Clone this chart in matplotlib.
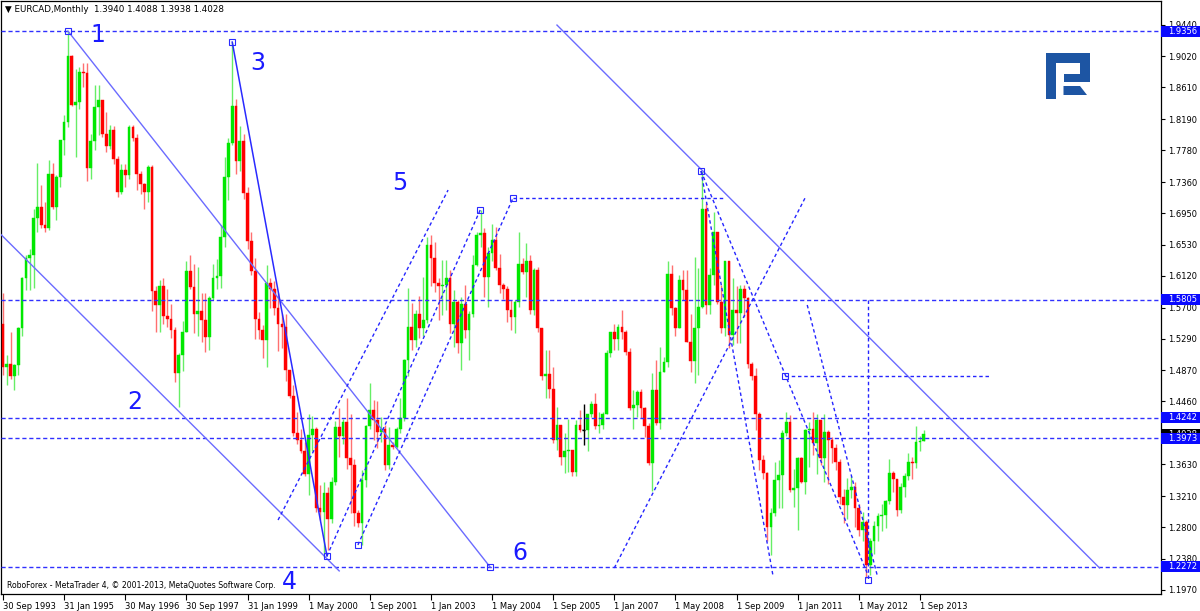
import numpy as np
import matplotlib
matplotlib.use("Agg")
import matplotlib.pyplot as plt
from matplotlib.patches import Polygon, Rectangle
import matplotlib.transforms as mtransforms

# EURCAD monthly candles, Sep 1993 .. Oct 2013 (one value per bar)
first_open = 1.549
last_open = 1.3940
closes = [
    1.492, 1.495, 1.479, 1.494, 1.543, 1.609, 1.635, 1.640, 1.688, 1.703,
    1.679, 1.675, 1.747, 1.703, 1.743, 1.791, 1.816, 1.902, 1.838, 1.842,
    1.882, 1.880, 1.754, 1.790, 1.835, 1.845, 1.800, 1.783, 1.805, 1.767,
    1.723, 1.752, 1.745, 1.809, 1.794, 1.747, 1.734, 1.723, 1.756, 1.592,
    1.574, 1.599, 1.559, 1.555, 1.540, 1.484, 1.508, 1.538, 1.618, 1.597,
    1.562, 1.565, 1.554, 1.531, 1.583, 1.609, 1.612, 1.663, 1.743, 1.787,
    1.837, 1.764, 1.790, 1.722, 1.658, 1.618, 1.555, 1.541, 1.527, 1.602,
    1.595, 1.570, 1.548, 1.545, 1.487, 1.453, 1.404, 1.395, 1.381, 1.350,
    1.402, 1.409, 1.305, 1.300, 1.325, 1.290, 1.340, 1.412, 1.400, 1.419,
    1.371, 1.362, 1.298, 1.285, 1.342, 1.413, 1.435, 1.421, 1.406, 1.410,
    1.362, 1.389, 1.386, 1.410, 1.424, 1.501, 1.545, 1.527, 1.562, 1.543,
    1.554, 1.653, 1.635, 1.602, 1.598, 1.600, 1.609, 1.549, 1.578, 1.523,
    1.575, 1.540, 1.562, 1.626, 1.666, 1.668, 1.611, 1.642, 1.659, 1.622,
    1.600, 1.595, 1.567, 1.558, 1.578, 1.628, 1.617, 1.631, 1.567, 1.620,
    1.543, 1.479, 1.482, 1.463, 1.395, 1.415, 1.373, 1.381, 1.382, 1.353,
    1.415, 1.408, 1.408, 1.430, 1.443, 1.413, 1.415, 1.430, 1.510, 1.538,
    1.529, 1.545, 1.538, 1.512, 1.437, 1.441, 1.459, 1.437, 1.413, 1.364,
    1.461, 1.417, 1.485, 1.498, 1.615, 1.569, 1.543, 1.607, 1.593, 1.525,
    1.499, 1.543, 1.571, 1.701, 1.573, 1.613, 1.670, 1.578, 1.543, 1.631,
    1.534, 1.567, 1.563, 1.595, 1.583, 1.496, 1.479, 1.430, 1.369, 1.351,
    1.280, 1.298, 1.342, 1.349, 1.404, 1.419, 1.329, 1.331, 1.371, 1.340,
    1.408, 1.410, 1.391, 1.421, 1.371, 1.406, 1.395, 1.384, 1.366, 1.320,
    1.309, 1.329, 1.333, 1.305, 1.276, 1.287, 1.230, 1.262, 1.281, 1.294,
    1.296, 1.314, 1.351, 1.344, 1.302, 1.333, 1.347, 1.366, 1.364, 1.393,
    1.394, 1.4028,
]
highs = [
    1.589, 1.507, 1.538, 1.496, 1.545, 1.610, 1.640, 1.648, 1.701, 1.761,
    1.732, 1.710, 1.765, 1.761, 1.745, 1.792, 1.825, 1.9356, 1.904, 1.886,
    1.888, 1.893, 1.893, 1.800, 1.864, 1.864, 1.840, 1.829, 1.812, 1.810,
    1.770, 1.760, 1.760, 1.812, 1.812, 1.800, 1.750, 1.735, 1.758, 1.758,
    1.599, 1.606, 1.609, 1.594, 1.575, 1.545, 1.510, 1.552, 1.632, 1.639,
    1.628, 1.624, 1.590, 1.590, 1.585, 1.628, 1.634, 1.679, 1.769, 1.794,
    1.921, 1.846, 1.810, 1.800, 1.729, 1.670, 1.635, 1.564, 1.547, 1.626,
    1.609, 1.605, 1.590, 1.562, 1.562, 1.488, 1.468, 1.432, 1.410, 1.392,
    1.429, 1.427, 1.412, 1.335, 1.340, 1.333, 1.346, 1.420, 1.438, 1.423,
    1.450, 1.430, 1.370, 1.302, 1.355, 1.415, 1.470, 1.448, 1.446, 1.426,
    1.415, 1.412, 1.392, 1.412, 1.450, 1.502, 1.596, 1.576, 1.567, 1.585,
    1.611, 1.664, 1.666, 1.657, 1.609, 1.633, 1.633, 1.620, 1.593, 1.580,
    1.584, 1.600, 1.565, 1.640, 1.670, 1.699, 1.675, 1.650, 1.681, 1.677,
    1.641, 1.602, 1.598, 1.580, 1.580, 1.670, 1.635, 1.655, 1.640, 1.622,
    1.624, 1.543, 1.514, 1.514, 1.492, 1.439, 1.415, 1.404, 1.423, 1.382,
    1.422, 1.435, 1.443, 1.430, 1.447, 1.457, 1.432, 1.432, 1.514, 1.538,
    1.549, 1.549, 1.567, 1.540, 1.516, 1.461, 1.461, 1.463, 1.439, 1.417,
    1.483, 1.501, 1.518, 1.505, 1.631, 1.626, 1.571, 1.613, 1.620, 1.620,
    1.562, 1.637, 1.622, 1.751, 1.708, 1.622, 1.697, 1.670, 1.600, 1.631,
    1.631, 1.609, 1.598, 1.600, 1.600, 1.584, 1.498, 1.490, 1.432, 1.375,
    1.353, 1.305, 1.366, 1.369, 1.408, 1.432, 1.428, 1.357, 1.373, 1.373,
    1.410, 1.419, 1.432, 1.430, 1.399, 1.430, 1.408, 1.399, 1.390, 1.370,
    1.330, 1.345, 1.347, 1.340, 1.310, 1.300, 1.289, 1.265, 1.288, 1.298,
    1.310, 1.316, 1.370, 1.354, 1.344, 1.338, 1.352, 1.378, 1.372, 1.414,
    1.400, 1.4088,
]
lows = [
    1.481, 1.468, 1.476, 1.461, 1.481, 1.532, 1.593, 1.593, 1.596, 1.670,
    1.675, 1.670, 1.672, 1.700, 1.686, 1.730, 1.772, 1.809, 1.836, 1.769,
    1.833, 1.862, 1.738, 1.740, 1.778, 1.798, 1.795, 1.776, 1.780, 1.760,
    1.716, 1.720, 1.730, 1.740, 1.790, 1.725, 1.720, 1.700, 1.710, 1.566,
    1.538, 1.538, 1.548, 1.545, 1.530, 1.472, 1.439, 1.486, 1.538, 1.595,
    1.536, 1.533, 1.525, 1.512, 1.514, 1.580, 1.594, 1.596, 1.650, 1.712,
    1.785, 1.747, 1.750, 1.713, 1.647, 1.613, 1.529, 1.529, 1.504, 1.491,
    1.570, 1.560, 1.513, 1.516, 1.473, 1.450, 1.400, 1.390, 1.378, 1.347,
    1.322, 1.381, 1.300, 1.289, 1.241, 1.250, 1.285, 1.335, 1.373, 1.390,
    1.357, 1.298, 1.281, 1.280, 1.256, 1.333, 1.410, 1.395, 1.384, 1.392,
    1.355, 1.357, 1.383, 1.385, 1.404, 1.420, 1.479, 1.514, 1.518, 1.530,
    1.532, 1.550, 1.598, 1.591, 1.554, 1.560, 1.567, 1.536, 1.518, 1.510,
    1.487, 1.530, 1.501, 1.558, 1.625, 1.650, 1.584, 1.571, 1.631, 1.620,
    1.589, 1.582, 1.551, 1.540, 1.536, 1.571, 1.615, 1.584, 1.562, 1.560,
    1.538, 1.474, 1.450, 1.450, 1.391, 1.382, 1.362, 1.351, 1.353, 1.347,
    1.347, 1.405, 1.388, 1.380, 1.425, 1.410, 1.404, 1.410, 1.430, 1.505,
    1.514, 1.514, 1.529, 1.507, 1.435, 1.410, 1.426, 1.424, 1.399, 1.362,
    1.327, 1.415, 1.409, 1.485, 1.492, 1.560, 1.532, 1.547, 1.580, 1.525,
    1.485, 1.470, 1.481, 1.569, 1.562, 1.562, 1.600, 1.575, 1.536, 1.533,
    1.516, 1.520, 1.523, 1.523, 1.558, 1.490, 1.474, 1.408, 1.355, 1.344,
    1.261, 1.243, 1.294, 1.305, 1.305, 1.400, 1.326, 1.307, 1.276, 1.338,
    1.324, 1.360, 1.375, 1.350, 1.362, 1.340, 1.337, 1.364, 1.355, 1.310,
    1.285, 1.291, 1.318, 1.280, 1.268, 1.262, 1.213, 1.216, 1.245, 1.262,
    1.275, 1.279, 1.310, 1.326, 1.294, 1.298, 1.320, 1.342, 1.344, 1.358,
    1.380, 1.3938,
]

date_labels = ["30 Sep 1993", "31 Jan 1995", "30 May 1996", "30 Sep 1997",
               "31 Jan 1999", "1 May 2000", "1 Sep 2001", "1 Jan 2003",
               "1 May 2004", "1 Sep 2005", "1 Jan 2007", "1 May 2008",
               "1 Sep 2009", "1 Jan 2011", "1 May 2012", "1 Sep 2013"]
date_step = 16
price_ticks = [1.9440, 1.9020, 1.8610, 1.8190, 1.7780, 1.7360, 1.6950, 1.6530,
               1.6120, 1.5700, 1.5290, 1.4870, 1.4460, 1.4040, 1.3630, 1.3210,
               1.2800, 1.2380, 1.1970]
# 1.4040 sits under the current-price box, so its label is not shown
hidden_ticks = [1.4040]
levels = [1.9356, 1.5805, 1.4242, 1.3973, 1.2272]
last_price = 1.4028

# analyst drawings, (bar, price) pairs
solid_lines = [((17, 1.9356), (127.5, 1.2272)),
               ((-1, 1.669), (88, 1.222)),
               ((145, 1.9435), (287, 1.226))]
wave_line = ((60, 1.921), (84.8, 1.2417))
dashed_lines = [((72, 1.2893), (116.5, 1.7254)),
                ((84.8, 1.2417), (124.9, 1.699)),
                ((92.9, 1.2563), (133.5, 1.7149)),
                ((133.5, 1.7149), (188.5, 1.7149)),
                ((182.7, 1.7506), (201.6, 1.214)),
                ((182.7, 1.7506), (226.4, 1.2166)),
                ((160, 1.2259), (210.2, 1.7175)),
                ((210.5, 1.5735), (228.8, 1.2166)),
                ((226.3, 1.5805), (226.3, 1.210)),
                ((204.7, 1.4796), (258.4, 1.4796))]
anchors = [(17, 1.9356), (60, 1.921), (84.8, 1.2417), (127.5, 1.2272),
           (124.9, 1.699), (133.5, 1.7149), (92.9, 1.2563), (182.7, 1.7506),
           (204.7, 1.4796), (226.3, 1.210)]
wave_labels = ["1", "2", "3", "4", "5", "6"]
wave_pos = [(24.9, 1.9303), (34.6, 1.4453), (66.8, 1.8933), (74.9, 1.2073),
            (103.9, 1.7347), (135.3, 1.2457)]

c = np.array(closes)
h = np.array(highs)
l = np.array(lows)
o = np.concatenate([[first_open], c[:-1]])
o[-1] = last_open
n = len(c)
x = np.arange(n)
h = np.maximum(h, np.maximum(o, c))
l = np.minimum(l, np.minimum(o, c))

fig = plt.figure(figsize=(12, 6.11), dpi=100)
fig.patch.set_facecolor("white")
W, H = 1200, 611
ax = fig.add_axes([1 / W, 17 / H, 1160 / W, 593 / H])
ax.set_xlim(-0.52, 303.1)
ax.set_ylim(1.1915, 1.9753)

up = c > o
down = c < o
flat = c == o
body_col = np.where(up, "#00e800", np.where(down, "#ff0000", "#000000"))
wick_col = np.where(up, "#66ee66", np.where(down, "#ff7070", "#000000"))
ax.vlines(x, l, h, colors=list(wick_col), lw=1.0, zorder=2)
ax.bar(x, np.abs(c - o), bottom=np.minimum(o, c), width=0.72,
       color=list(body_col), edgecolor=list(body_col), linewidth=0.3, zorder=3)
ax.hlines(c[flat], x[flat] - 0.45, x[flat] + 0.45, colors="black", lw=1, zorder=3)

# horizontal levels
for lv in levels:
    ax.axhline(lv, color="#3030ff", lw=1, ls=(0, (3, 2)), zorder=4)

for (x0, y0), (x1, y1) in solid_lines:
    ax.plot([x0, x1], [y0, y1], color="#6b6bff", lw=1, zorder=4)
ax.plot([wave_line[0][0], wave_line[1][0]], [wave_line[0][1], wave_line[1][1]],
        color="#2a2aff", lw=1.1, zorder=4)
for (x0, y0), (x1, y1) in dashed_lines:
    ax.plot([x0, x1], [y0, y1], color="#2525ff", lw=1, ls=(0, (2.5, 2)), zorder=4)
ax.plot([a[0] for a in anchors], [a[1] for a in anchors], ls="none", marker="s",
        ms=4, mfc="none", mec="#2a2aff", mew=0.8, zorder=5)
for t, (px, py) in zip(wave_labels, wave_pos):
    ax.text(px, py, t, color="#1a1aff", fontsize=17, ha="center", va="center",
            zorder=6)

# axes styling
for sp in ax.spines.values():
    sp.set_color("black")
    sp.set_linewidth(0.9)
ax.yaxis.tick_right()
ax.set_yticks(price_ticks)
ax.set_yticklabels(["" if v in hidden_ticks else "%.4f" % v for v in price_ticks])
ax.tick_params(axis="y", direction="out", length=3, width=0.8, labelsize=6,
               pad=2, colors="black")
ticks_x = np.arange(len(date_labels)) * date_step
ax.set_xticks(ticks_x)
ax.set_xticklabels(date_labels, ha="left")
ax.tick_params(axis="x", direction="out", length=4, width=0.8, labelsize=6,
               pad=2)

# price boxes on the right scale
tr = mtransforms.blended_transform_factory(ax.transAxes, ax.transData)
bh = 11 / 756.6
box_w = 40 / 1160
ax.add_patch(Rectangle((1.0, last_price - bh / 2), box_w, bh, transform=tr,
                       fc="black", ec="none", clip_on=False, zorder=7))
ax.text(1.006, last_price, "%.4f" % last_price, transform=tr, color="white",
        fontsize=6, ha="left", va="center", clip_on=False, zorder=8)
for lv in levels:
    ax.add_patch(Rectangle((1.0, lv - bh / 2), box_w, bh, transform=tr,
                           fc="#0a0aff", ec="none", clip_on=False, zorder=9))
    ax.text(1.006, lv, "%.4f" % lv, transform=tr, color="white", fontsize=6,
            ha="left", va="center", clip_on=False, zorder=10)

# overlay in pixel space for header, footer and logo
ov = fig.add_axes([0, 0, 1, 1])
ov.set_xlim(0, W)
ov.set_ylim(H, 0)
ov.set_axis_off()
ov.text(5, 10, "\u25bc EURCAD,Monthly  1.3940 1.4088 1.3938 1.4028", fontsize=6.3,
        va="center", ha="left", color="black")
ov.text(7, 586, "RoboForex - MetaTrader 4, \u00a9 2001-2013, MetaQuotes Software Corp.",
        fontsize=5.6, va="center", ha="left", color="black")
logo_a = [(1046, 53), (1089.5, 53), (1089.5, 82), (1063.5, 82), (1063.5, 73.5),
          (1080, 73.5), (1080, 63), (1055.5, 63), (1055.5, 99), (1046, 99)]
logo_b = [(1063.5, 86), (1080, 86), (1087, 95), (1063.5, 95)]
ov.add_patch(Polygon(logo_a, closed=True, fc="#1d55a3", ec="none"))
ov.add_patch(Polygon(logo_b, closed=True, fc="#1d55a3", ec="none"))

fig.savefig("out.png", dpi=100)
